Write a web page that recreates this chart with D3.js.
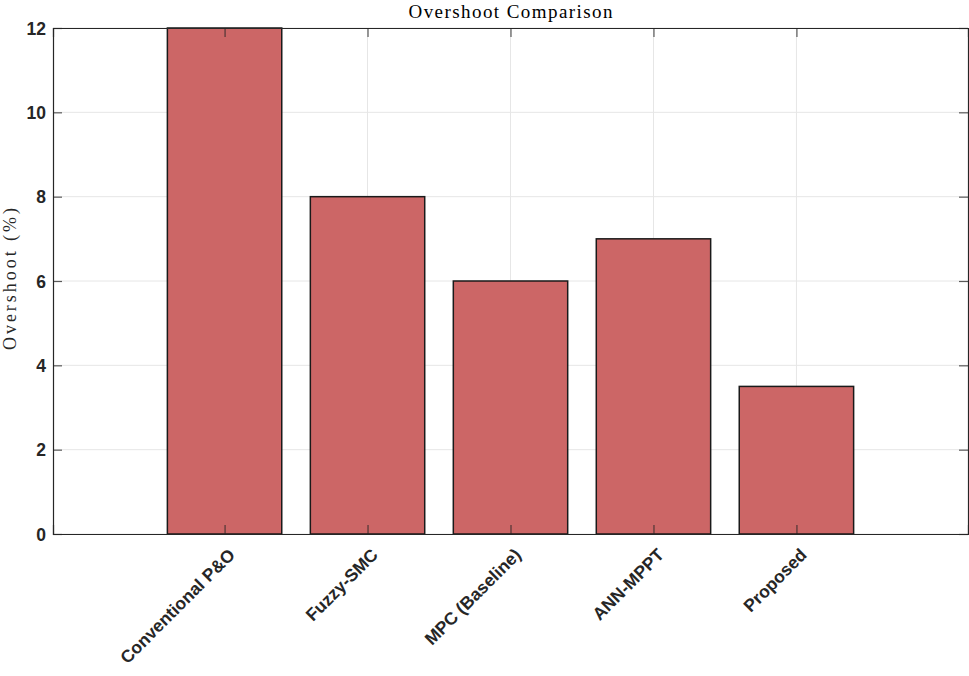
<!DOCTYPE html>
<html>
<head>
<meta charset="utf-8">
<script src="https://cdn.jsdelivr.net/npm/d3@7"></script>
<style>
html,body{margin:0;padding:0;background:#fff;}
svg{display:block;}
</style>
</head>
<body>
<svg id="chart" width="969" height="676"></svg>
<script>
const categories = ["Conventional P&O", "Fuzzy-SMC", "MPC (Baseline)", "ANN-MPPT", "Proposed"];
const overshoot = [12, 8, 6, 7, 3.5];
const yTicks = [0, 2, 4, 6, 8, 10, 12];
const titleText = "Overshoot Comparison";
const yLabelText = "Overshoot (%)";

const W = 969, H = 676;
const m = {left: 53, right: 1, top: 28, bottom: 142};
const svg = d3.select("#chart");
const iw = W - m.left - m.right, ih = H - m.top - m.bottom;
const g = svg.append("g").attr("transform", `translate(${m.left},${m.top})`);

const idx = categories.map((d, i) => i + 1);
const x = d3.scaleLinear().domain([-0.2, 6.2]).range([0, iw]);
const y = d3.scaleLinear().domain([0, 12]).range([ih, 0]);
const bw = (x(1) - x(0)) * 0.8;

// grid
g.append("g").selectAll("line.gx").data(idx).join("line")
  .attr("x1", d => x(d)).attr("x2", d => x(d)).attr("y1", 0).attr("y2", ih)
  .attr("stroke", "#e6e6e6").attr("stroke-width", 1);
g.append("g").selectAll("line.gy").data(yTicks).join("line")
  .attr("y1", d => y(d)).attr("y2", d => y(d)).attr("x1", 0).attr("x2", iw)
  .attr("stroke", "#e6e6e6").attr("stroke-width", 1);

// bars
g.append("g").selectAll("rect").data(overshoot).join("rect")
  .attr("x", (d, i) => x(i + 1) - bw / 2)
  .attr("width", bw)
  .attr("y", d => y(d))
  .attr("height", d => ih - y(d))
  .attr("fill", "#cc6666")
  .attr("stroke", "#1a1a1a")
  .attr("stroke-width", 1.5);

// axes
const axCol = "#262626";
const tl = 9;
const xb = g.append("g").attr("transform", `translate(0,${ih})`)
  .call(d3.axisBottom(x).tickValues(idx).tickSize(-tl).tickFormat((d) => categories[d - 1]));
const xt = g.append("g")
  .call(d3.axisTop(x).tickValues(idx).tickSize(-tl).tickFormat(""));
const yl = g.append("g")
  .call(d3.axisLeft(y).tickValues(yTicks).tickSize(-tl).tickFormat(d3.format("d")));
const yr = g.append("g").attr("transform", `translate(${iw},0)`)
  .call(d3.axisRight(y).tickValues(yTicks).tickSize(-tl).tickFormat(""));

[xb, xt, yl, yr].forEach(a => {
  a.select(".domain").attr("stroke", axCol).attr("stroke-width", 1.2);
  a.selectAll(".tick line").attr("stroke", axCol).attr("stroke-width", 1.2).attr("opacity", 0.75);
  a.selectAll("text").attr("fill", axCol)
    .style("font-family", "'Liberation Sans', Arial, sans-serif")
    .style("font-weight", "bold").style("font-size", "17.5px");
});
yl.selectAll(".tick text").attr("x", -7).attr("dy", "0.36em");
xb.selectAll(".tick text")
  .attr("text-anchor", "end")
  .attr("dy", "0")
  .attr("y", 0)
  .attr("transform", "translate(11,22) rotate(-45)");

// title
svg.append("text").attr("x", m.left + iw / 2).attr("y", 18)
  .attr("text-anchor", "middle")
  .attr("textLength", 204).attr("lengthAdjust", "spacing")
  .style("font-family", "'Liberation Serif', 'DejaVu Serif', serif")
  .style("font-size", "19px").attr("fill", "#000")
  .text(titleText);

// y label
svg.append("text")
  .attr("transform", `translate(16,${279}) rotate(-90)`)
  .attr("text-anchor", "middle")
  .attr("textLength", 142).attr("lengthAdjust", "spacing")
  .style("font-family", "'Liberation Serif', 'DejaVu Serif', serif")
  .style("font-size", "18px").attr("fill", "#262626")
  .text(yLabelText);
</script>
</body>
</html>
